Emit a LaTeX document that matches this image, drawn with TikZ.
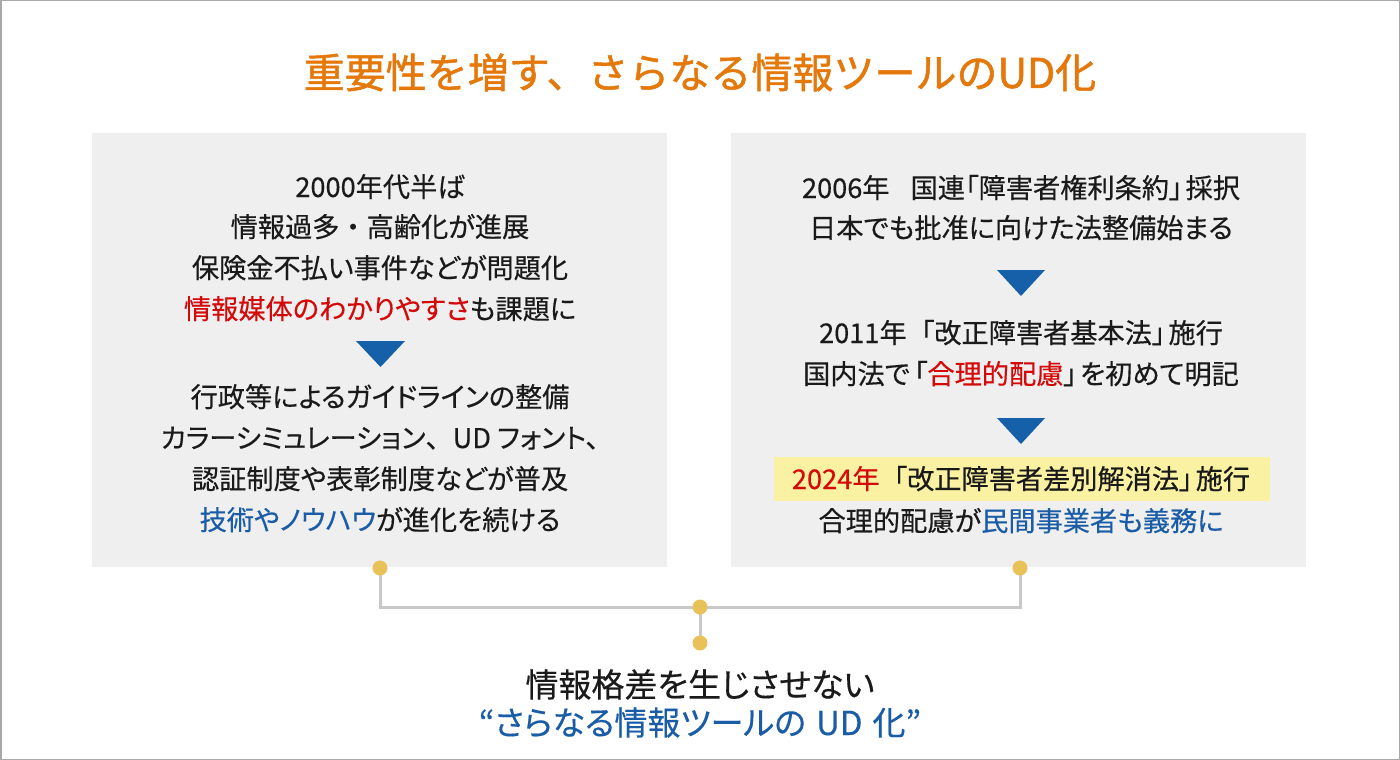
\documentclass[tikz,border=0pt]{standalone}
\usepackage{fontspec}
\setmainfont{Noto Sans CJK JP}[RawFeature=+palt]
\newfontfamily\jpfont{Noto Sans CJK JP}[RawFeature=+palt,FakeBold=0.4]
\newfontfamily\jpfull{Noto Sans CJK JP}[FakeBold=0.4]
\newfontfamily\jptitle{Noto Sans CJK JP}[FakeBold=1.2]
\definecolor{ttlorange}{HTML}{E5780B}
\definecolor{txtred}{HTML}{D40A0A}
\definecolor{txtblue}{HTML}{1A5DA6}
\definecolor{triblue}{HTML}{1560A8}
\definecolor{dotyel}{HTML}{E8C158}
\definecolor{linegray}{HTML}{C8C8C8}
\definecolor{boxgray}{HTML}{EFEFEF}
\definecolor{hilite}{HTML}{FAF1A2}
\definecolor{framegray}{HTML}{A8A8A8}
\definecolor{txtblack}{HTML}{1A1A1A}
\begin{document}
\begin{tikzpicture}[x=1pt,y=-1pt,
  bodyline/.style={anchor=base,inner sep=0pt,text=txtblack,font=\jpfont\fontsize{27.2}{30}\selectfont},
  ttl/.style={anchor=base,inner sep=0pt,text=ttlorange,font=\jptitle\fontsize{41}{46}\selectfont},
  concl/.style={anchor=base,inner sep=0pt,text=txtblack,font=\jpfont\fontsize{33}{38}\selectfont},
  panel/.style={fill=boxgray},
  tri/.style={fill=triblue},
  dot/.style={circle,fill=dotyel,minimum size=15pt,inner sep=0pt},
  conn/.style={draw=linegray,line width=3pt}]
\useasboundingbox (0,0) rectangle (1400,760);
\draw[framegray,line width=1.5pt] (0.75,0.75) rectangle (1399.25,759.25);
% title
\node[ttl] (title) at (700,88) {重要性を増す、さらなる情報ツールのUD化};
% panels
\fill[panel] (92,133) rectangle (667,567);
\fill[panel] (731,133) rectangle (1306,567);
% left panel text
\node[bodyline] (l1) at (380,197) {2000年代半ば};
\node[bodyline] (l2) at (380,237) {情報過多{\jpfull ・}高齢化が進展};
\node[bodyline] (l3) at (380,278) {保険金不払い事件などが問題化};
\node[bodyline] (l4) at (380,319) {\textcolor{txtred}{情報媒体のわかりやすさ}も課題に};
\fill[tri] (356,341) -- (405,341) -- (380.5,367) -- cycle;
\node[bodyline] (l5) at (380,407) {行政等によるガイドラインの整備};
\node[bodyline] (l6) at (380,448) {カラーシミュレーション{\jpfull 、}UD フォント、};
\node[bodyline] (l7) at (380,489) {認証制度や表彰制度などが普及};
\node[bodyline] (l8) at (380,530) {\textcolor{txtblue}{技術やノウハウ}が進化を続ける};
% right panel text
\node[bodyline] (r1) at (1021,198) {2006年\hspace{21pt}国連「障害者権利条約」\hspace{3pt}採択};
\node[bodyline] (r2) at (1021,238) {日本でも批准に向けた法整備始まる};
\fill[tri] (997,270) -- (1045,270) -- (1021,296) -- cycle;
\node[bodyline] (r3) at (1021,343) {2011年\hspace{14pt}「改正障害者基本法」\hspace{3pt}施行};
\node[bodyline] (r4) at (1021,384) {国内法で\hspace{4pt}「\textcolor{txtred}{合理的配慮}」\hspace{3pt}を初めて明記};
\fill[tri] (997,418) -- (1045,418) -- (1021,444) -- cycle;
\fill[hilite] (774,457) rectangle (1270,501);
\node[bodyline] (r5) at (1021,489) {\textcolor{txtred}{2024年}\hspace{14pt}「改正障害者差別解消法」\hspace{3pt}施行};
\node[bodyline] (r6) at (1021,531) {合理的配慮が\textcolor{txtblue}{民間事業者も義務に}};
% connectors
\coordinate (pl) at (380,568);
\coordinate (pr) at (1020,568);
\coordinate (pm) at (700,607);
\coordinate (pb) at (700,643);
\draw[conn] (pl) |- (pm) -| (pr);
\draw[conn] (pm) -- (pb);
\node[dot] (dl) at (pl) {};
\node[dot] (dr) at (pr) {};
\node[dot] (dm) at (pm) {};
\node[dot] (db) at (pb) {};
% conclusion
\node[concl] (c1) at (700,697) {情報格差を生じさせない};
\node[concl,text=txtblue] (c2) at (700,735) {“さらなる情報ツールの\hspace{10pt}UD\hspace{10pt}化”};
\end{tikzpicture}
\end{document}
